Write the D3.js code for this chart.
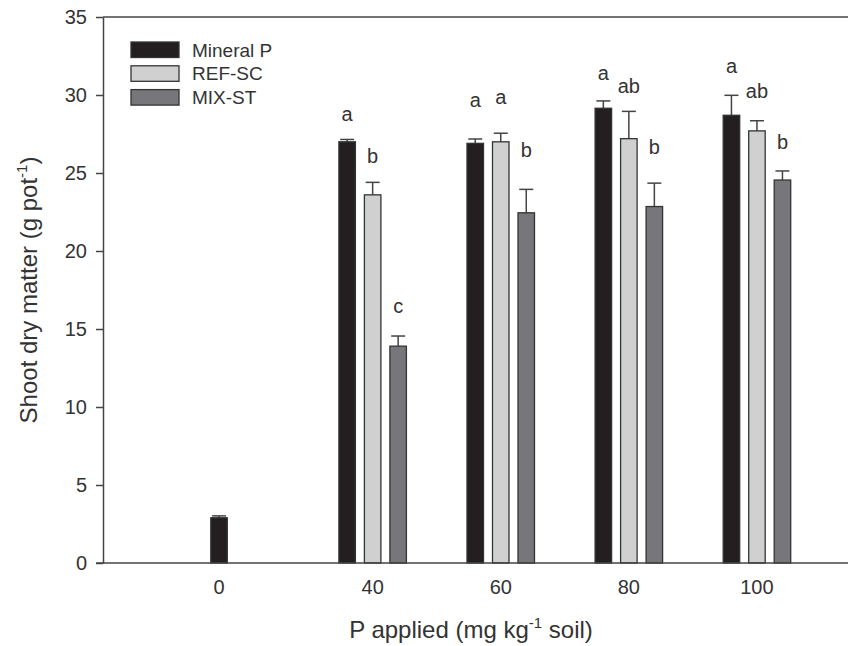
<!DOCTYPE html>
<html>
<head>
<meta charset="utf-8">
<script src="https://cdn.jsdelivr.net/npm/d3@7"></script>
<style>
  body { margin: 0; background: #fff; }
  text { font-family: "Liberation Sans", Arial, sans-serif; fill: #333; }
</style>
</head>
<body>
<div id="chartContainer"></div>
<script>
const doses = ["0", "40", "60", "80", "100"];
const treatments = ["Mineral P", "REF-SC", "MIX-ST"];

const mineralP = [2.9, 27.0, 26.9, 29.15, 28.7];
const mineralPErr = [0.12, 0.15, 0.28, 0.47, 1.28];
const refSC = [null, 23.6, 27.0, 27.2, 27.7];
const refSCErr = [null, 0.8, 0.55, 1.75, 0.65];
const mixST = [null, 13.9, 22.45, 22.85, 24.55];
const mixSTErr = [null, 0.65, 1.5, 1.5, 0.58];

// significance letters and the height (in g pot-1) they sit at
const mineralPLetters = ["", "a", "a", "a", "a"];
const refSCLetters = ["", "b", "a", "ab", "ab"];
const mixSTLetters = ["", "c", "b", "b", "b"];
const mineralPLetterY = [null, 28.7, 29.6, 31.35, 31.8];
const refSCLetterY = [null, 26.0, 29.8, 30.5, 30.2];
const mixSTLetterY = [null, 16.4, 26.4, 26.6, 26.9];

const yTicks = [0, 5, 10, 15, 20, 25, 30, 35];

const series = [
    { name: treatments[0], values: mineralP, err: mineralPErr, letters: mineralPLetters, letterY: mineralPLetterY, fill: "#231f20" },
    { name: treatments[1], values: refSC, err: refSCErr, letters: refSCLetters, letterY: refSCLetterY, fill: "#d0d0d0" },
    { name: treatments[2], values: mixST, err: mixSTErr, letters: mixSTLetters, letterY: mixSTLetterY, fill: "#77777b" }
];

const W = 848, H = 646;
const plotLeft = 103, plotTop = 17, plotBottom = 563;
const axisColor = "#444";

const svg = d3.select("#chartContainer").append("svg")
    .attr("width", W)
    .attr("height", H);

const x0 = d3.scaleBand().domain(doses).range([180.5, 821]).padding(0);
const x1 = d3.scaleBand().domain(treatments).range([-33.75, 33.75]).paddingInner(0.353).paddingOuter(0);
const y = d3.scaleLinear().domain([0, 35]).range([plotBottom, plotTop]);

// bars
series.forEach(s => {
    const rows = doses.map((d, i) => ({ dose: d, v: s.values[i], e: s.err[i], l: s.letters[i], ly: s.letterY[i] }))
        .filter(r => r.v != null);
    const g = svg.append("g");
    const bx = r => x0(r.dose) + x0.bandwidth() / 2 + x1(s.name);
    const bw = x1.bandwidth();

    // error bars (upper only)
    g.selectAll("line.err").data(rows).enter().append("line")
        .attr("x1", r => bx(r) + bw / 2).attr("x2", r => bx(r) + bw / 2)
        .attr("y1", r => y(r.v)).attr("y2", r => y(r.v + r.e))
        .attr("stroke", axisColor).attr("stroke-width", 1.5);
    g.selectAll("line.cap").data(rows).enter().append("line")
        .attr("x1", r => bx(r) + bw / 2 - 7).attr("x2", r => bx(r) + bw / 2 + 7)
        .attr("y1", r => y(r.v + r.e)).attr("y2", r => y(r.v + r.e))
        .attr("stroke", axisColor).attr("stroke-width", 1.5);

    g.selectAll("rect").data(rows).enter().append("rect")
        .attr("x", bx)
        .attr("y", r => y(r.v))
        .attr("width", bw)
        .attr("height", r => y(0) - y(r.v))
        .attr("fill", s.fill)
        .attr("stroke", "#333")
        .attr("stroke-width", 1.3);

    g.selectAll("text").data(rows.filter(r => r.l)).enter().append("text")
        .attr("x", r => bx(r) + bw / 2)
        .attr("y", r => y(r.ly))
        .attr("dy", "0.3em")
        .attr("text-anchor", "middle")
        .attr("font-size", 20)
        .text(r => r.l);
});

// y axis
const yAxis = svg.append("g")
    .attr("transform", `translate(${plotLeft},0)`)
    .call(d3.axisLeft(y).tickValues(yTicks).tickSize(7).tickPadding(9).tickSizeOuter(0));
yAxis.select(".domain").attr("stroke", axisColor).attr("stroke-width", 1.5);
yAxis.selectAll(".tick line").attr("stroke", axisColor).attr("stroke-width", 1.5);
yAxis.selectAll(".tick text").attr("font-size", 20).attr("fill", "#333")
    .style("font-family", "'Liberation Sans', Arial, sans-serif");

// x axis line and top frame line
svg.append("line").attr("x1", plotLeft - 7).attr("x2", W).attr("y1", y(0)).attr("y2", y(0))
    .attr("stroke", axisColor).attr("stroke-width", 1.5);
svg.append("line").attr("x1", plotLeft).attr("x2", W).attr("y1", y(35)).attr("y2", y(35))
    .attr("stroke", axisColor).attr("stroke-width", 1.5);

// x tick labels centred under the bars that are present in each group
svg.append("g").selectAll("text").data(doses).enter().append("text")
    .attr("x", (d, i) => {
        const present = series.filter(s => s.values[i] != null);
        return d3.mean(present, s => x0(d) + x0.bandwidth() / 2 + x1(s.name) + x1.bandwidth() / 2);
    })
    .attr("y", 594)
    .attr("text-anchor", "middle")
    .attr("font-size", 20)
    .text(d => d);

// axis titles
const xt = svg.append("text")
    .attr("x", 471).attr("y", 638)
    .attr("text-anchor", "middle")
    .attr("font-size", 24);
xt.append("tspan").text("P applied (mg kg");
xt.append("tspan").attr("dy", -10).attr("font-size", 15).text("-1");
xt.append("tspan").attr("dy", 10).text(" soil)");

const yt = svg.append("text")
    .attr("transform", `translate(37,${(plotTop + plotBottom) / 2}) rotate(-90)`)
    .attr("text-anchor", "middle")
    .attr("font-size", 24);
yt.append("tspan").text("Shoot dry matter (g pot");
yt.append("tspan").attr("dy", -10).attr("font-size", 15).text("-1");
yt.append("tspan").attr("dy", 10).text(")");

// legend
const legend = svg.append("g").attr("transform", "translate(131,42)");
series.forEach((s, i) => {
    const row = legend.append("g").attr("transform", `translate(0,${i * 23.8})`);
    row.append("rect").attr("width", 48).attr("height", 15.5)
        .attr("fill", s.fill).attr("stroke", "#333").attr("stroke-width", 1.3);
    row.append("text").attr("x", 61).attr("y", 14.5)
        .attr("font-size", 19).text(s.name);
});
</script>
</body>
</html>
